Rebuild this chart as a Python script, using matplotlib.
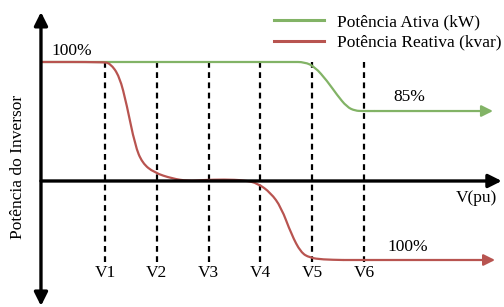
import matplotlib
matplotlib.use("Agg")
import matplotlib.pyplot as plt
from matplotlib.path import Path
from matplotlib.patches import PathPatch
from matplotlib.lines import Line2D

plt.rcParams['font.family'] = ['Liberation Serif', 'DejaVu Serif']

# ---- data (schematic units: V_k at x = k, 100 = full level, 0 = axis) ----
v_labels = ["V1", "V2", "V3", "V4", "V5", "V6"]
v_positions = [1, 2, 3, 4, 5, 6]

active_x = [-0.236, 4.6, 4.85, 5.05, 5.29, 5.48, 5.67, 5.83, 5.98, 6.2]
active_y = [100, 100, 100, 96, 84, 72.3, 62.2, 59.0, 58.8, 58.8]
active_end_x = 8.49

reactive_x = [-0.236, 0.95, 1.1, 1.28, 1.42, 1.58, 1.72, 1.95, 2.3, 2.6,
              2.9, 3.3, 3.7, 3.95, 4.2, 4.4, 4.6, 4.78, 4.95, 5.2, 5.6]
reactive_y = [100, 100, 99, 88, 64, 30, 15, 7, 2, 0,
              0.8, 1.3, 0.6, -2, -10, -22, -45, -60, -64.5, -66, -66.4]
reactive_end_x = 8.53

green = "#82b366"
red = "#b85450"

fig = plt.figure(figsize=(5.04, 3.07), dpi=100)
ax = fig.add_axes([0, 0, 1, 1])
ax.set_xlim(-1.027, 8.703)
ax.set_ylim(-105.9, 152.1)
ax.axis("off")


def smooth_path(xs, ys):
    pts = list(zip(xs, ys))
    verts = [pts[0]]
    codes = [Path.MOVETO]
    mid = lambda a, b: ((a[0] + b[0]) / 2, (a[1] + b[1]) / 2)
    verts.append(mid(pts[0], pts[1]))
    codes.append(Path.LINETO)
    for i in range(1, len(pts) - 1):
        verts += [pts[i], mid(pts[i], pts[i + 1])]
        codes += [Path.CURVE3, Path.CURVE3]
    verts.append(pts[-1])
    codes.append(Path.LINETO)
    return Path(verts, codes)


# dashed voltage guides
for xv, lab in zip(v_positions, v_labels):
    ax.plot([xv, xv], [100, -68], color="black", lw=1.6, dashes=(2.6, 2.0), zorder=1)
    ax.text(xv, -77, lab, ha="center", va="center", fontsize=12.5)

# curves
ax.add_patch(PathPatch(smooth_path(active_x, active_y), fill=False, edgecolor=green,
                       lw=1.6, zorder=2, capstyle="butt"))
ax.annotate("", xy=(active_end_x, active_y[-1]), xytext=(active_x[-1], active_y[-1]),
            arrowprops=dict(arrowstyle="-|>", color=green, lw=1.6, mutation_scale=17,
                            shrinkA=0, shrinkB=0), zorder=2)
ax.add_patch(PathPatch(smooth_path(reactive_x, reactive_y), fill=False, edgecolor=red,
                       lw=1.6, zorder=2, capstyle="butt"))
ax.annotate("", xy=(reactive_end_x, reactive_y[-1]), xytext=(reactive_x[-1], reactive_y[-1]),
            arrowprops=dict(arrowstyle="-|>", color=red, lw=1.6, mutation_scale=17,
                            shrinkA=0, shrinkB=0), zorder=2)

# axes
ax.annotate("", xy=(8.66, 0), xytext=(-0.236, 0),
            arrowprops=dict(arrowstyle="-|>", color="black", lw=2.4, mutation_scale=20,
                            shrinkA=0, shrinkB=0), zorder=3)
ax.annotate("", xy=(-0.236, 142), xytext=(-0.236, -105),
            arrowprops=dict(arrowstyle="<|-|>", color="black", lw=2.4, mutation_scale=20,
                            shrinkA=0, shrinkB=0), zorder=3)

# texts
ax.text(-0.04, 105.9, "100%", ha="left", va="baseline", fontsize=12.5)
ax.text(6.56, 67.2, "85%", ha="left", va="baseline", fontsize=12.5)
ax.text(6.46, -58.8, "100%", ha="left", va="baseline", fontsize=12.5)
ax.text(8.57, -17.6, "V(pu)", ha="right", va="baseline", fontsize=12.5)
ax.text(-0.68, 11.8, "Potência do Inversor", rotation=90, ha="center", va="center", fontsize=12.5)

handles = [Line2D([], [], color=green, lw=2.2), Line2D([], [], color=red, lw=2.2)]
labels = ["Potência Ativa (kW)", "Potência Reativa (kvar)"]
ax.legend(handles, labels, loc="upper left", bbox_to_anchor=(274 / 504, 1 - 14 / 307),
          frameon=False, fontsize=12.5, handlelength=2.9, handletextpad=0.72,
          labelspacing=0.25, borderpad=0, borderaxespad=0)

fig.savefig("out.png", dpi=100)
